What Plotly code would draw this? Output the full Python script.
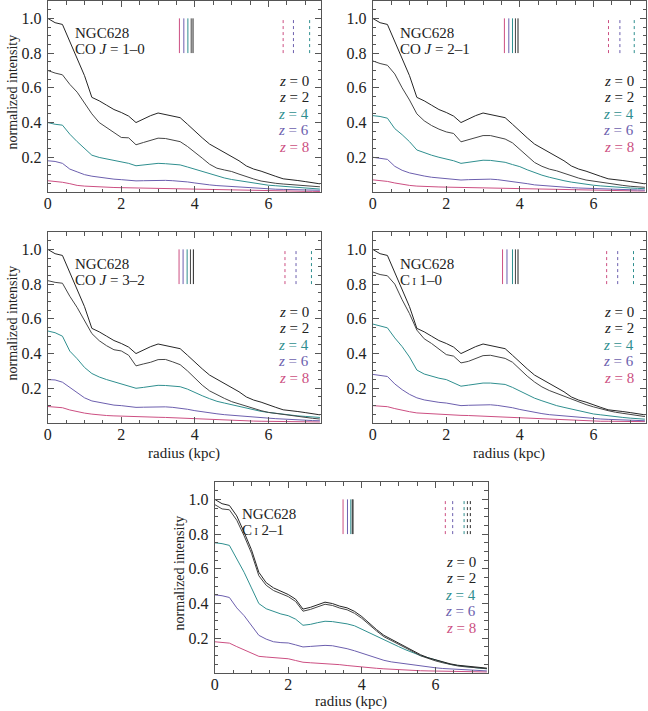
import plotly.graph_objects as go

W, H = 648, 711

# ---------------- data ----------------
radius = [0.0, 0.2, 0.4, 0.6, 0.8, 1.0, 1.2, 1.4, 1.6, 1.8, 2.0, 2.2, 2.4, 2.6, 2.8, 3.0, 3.2, 3.4, 3.6,
          3.8, 4.0, 4.2, 4.4, 4.6, 4.8, 5.0, 5.2, 5.4, 5.6, 5.8, 6.0, 6.2, 6.4, 6.6, 6.8, 7.0, 7.2, 7.4]

z_labels = ["0", "2", "4", "6", "8"]

# z = 0 profile (same in the four upper panels)
z0_common = [1.00, 0.975, 0.965, 0.87, 0.775, 0.67, 0.545, 0.525, 0.50, 0.475, 0.458, 0.437, 0.400, 0.420,
             0.440, 0.455, 0.447, 0.437, 0.428, 0.390, 0.350, 0.312, 0.276, 0.252, 0.225, 0.202, 0.180,
             0.150, 0.132, 0.120, 0.103, 0.090, 0.076, 0.069, 0.066, 0.060, 0.055, 0.047]

# CO J=1-0
co10_z2 = [0.70, 0.685, 0.675, 0.62, 0.575, 0.51, 0.45, 0.40, 0.37, 0.34, 0.314, 0.312, 0.272, 0.285, 0.297,
           0.310, 0.308, 0.300, 0.290, 0.262, 0.230, 0.195, 0.160, 0.137, 0.127, 0.118, 0.103, 0.088, 0.075,
           0.063, 0.055, 0.050, 0.046, 0.042, 0.038, 0.035, 0.032, 0.030]
co10_z4 = [0.40, 0.39, 0.385, 0.333, 0.29, 0.248, 0.212, 0.199, 0.19, 0.18, 0.174, 0.165, 0.151, 0.155, 0.16,
           0.165, 0.163, 0.16, 0.156, 0.144, 0.131, 0.117, 0.103, 0.092, 0.081, 0.072, 0.065, 0.057, 0.051,
           0.045, 0.039, 0.036, 0.033, 0.030, 0.027, 0.024, 0.020, 0.017]
co10_z6 = [0.18, 0.176, 0.165, 0.132, 0.116, 0.100, 0.091, 0.085, 0.078, 0.074, 0.071, 0.067, 0.064, 0.065,
           0.066, 0.068, 0.067, 0.065, 0.063, 0.058, 0.052, 0.045, 0.041, 0.037, 0.034, 0.031, 0.029, 0.026,
           0.023, 0.020, 0.018, 0.016, 0.015, 0.014, 0.013, 0.012, 0.011, 0.010]
co10_z8 = [0.065, 0.061, 0.056, 0.048, 0.038, 0.034, 0.031, 0.029, 0.027, 0.026, 0.025, 0.024, 0.023, 0.023,
           0.022, 0.022, 0.022, 0.021, 0.020, 0.018, 0.016, 0.015, 0.014, 0.013, 0.012, 0.011, 0.010, 0.009,
           0.009, 0.008, 0.007, 0.006, 0.006, 0.005, 0.005, 0.004, 0.004, 0.003]

# CO J=2-1
co21_z2 = [0.755, 0.74, 0.73, 0.68, 0.60, 0.53, 0.45, 0.41, 0.383, 0.362, 0.346, 0.337, 0.289, 0.300, 0.312,
           0.325, 0.325, 0.316, 0.305, 0.283, 0.245, 0.203, 0.170, 0.148, 0.132, 0.122, 0.108, 0.092, 0.080,
           0.069, 0.062, 0.056, 0.050, 0.044, 0.038, 0.033, 0.030, 0.027]
co21_z4 = [0.44, 0.435, 0.425, 0.365, 0.33, 0.29, 0.242, 0.225, 0.212, 0.200, 0.192, 0.180, 0.165, 0.170,
           0.177, 0.183, 0.182, 0.177, 0.171, 0.158, 0.146, 0.128, 0.111, 0.097, 0.085, 0.073, 0.065, 0.057,
           0.050, 0.044, 0.039, 0.035, 0.031, 0.028, 0.025, 0.023, 0.021, 0.019]
co21_z6 = [0.20, 0.196, 0.188, 0.148, 0.125, 0.110, 0.099, 0.092, 0.085, 0.081, 0.079, 0.074, 0.069, 0.071,
           0.073, 0.075, 0.074, 0.071, 0.066, 0.061, 0.055, 0.048, 0.041, 0.037, 0.033, 0.030, 0.027, 0.025,
           0.023, 0.021, 0.019, 0.017, 0.016, 0.015, 0.014, 0.013, 0.012, 0.011]
co21_z8 = [0.070, 0.066, 0.061, 0.052, 0.044, 0.038, 0.034, 0.031, 0.030, 0.029, 0.028, 0.027, 0.026, 0.026,
           0.025, 0.025, 0.024, 0.023, 0.022, 0.020, 0.019, 0.018, 0.017, 0.016, 0.015, 0.014, 0.013, 0.012,
           0.011, 0.010, 0.009, 0.008, 0.008, 0.007, 0.007, 0.006, 0.006, 0.006]

# CO J=3-2
co32_z2 = [0.82, 0.81, 0.805, 0.73, 0.665, 0.59, 0.515, 0.474, 0.445, 0.422, 0.415, 0.390, 0.329, 0.340,
           0.350, 0.365, 0.366, 0.352, 0.336, 0.300, 0.258, 0.218, 0.185, 0.162, 0.142, 0.123, 0.110, 0.095,
           0.082, 0.071, 0.061, 0.055, 0.047, 0.041, 0.036, 0.031, 0.027, 0.023]
co32_z4 = [0.53, 0.52, 0.50, 0.414, 0.37, 0.32, 0.285, 0.265, 0.25, 0.238, 0.228, 0.215, 0.200, 0.205, 0.210,
           0.217, 0.216, 0.213, 0.209, 0.195, 0.175, 0.157, 0.140, 0.125, 0.115, 0.105, 0.094, 0.083, 0.074,
           0.067, 0.061, 0.055, 0.050, 0.045, 0.041, 0.038, 0.035, 0.032]
co32_z6 = [0.25, 0.248, 0.235, 0.204, 0.175, 0.145, 0.127, 0.118, 0.108, 0.103, 0.100, 0.095, 0.090, 0.091,
           0.093, 0.094, 0.093, 0.090, 0.086, 0.079, 0.071, 0.064, 0.058, 0.053, 0.048, 0.044, 0.040, 0.036,
           0.033, 0.030, 0.028, 0.025, 0.022, 0.020, 0.018, 0.016, 0.014, 0.013]
co32_z8 = [0.095, 0.093, 0.088, 0.075, 0.064, 0.057, 0.051, 0.046, 0.043, 0.041, 0.039, 0.037, 0.036, 0.035,
           0.034, 0.033, 0.032, 0.030, 0.027, 0.025, 0.023, 0.021, 0.019, 0.017, 0.015, 0.014, 0.013, 0.012,
           0.011, 0.010, 0.009, 0.008, 0.008, 0.007, 0.007, 0.006, 0.006, 0.006]

# C I 1-0
ci10_z2 = [0.87, 0.855, 0.848, 0.80, 0.71, 0.63, 0.535, 0.485, 0.458, 0.425, 0.394, 0.385, 0.346, 0.355,
           0.370, 0.388, 0.390, 0.382, 0.372, 0.350, 0.310, 0.270, 0.236, 0.208, 0.187, 0.170, 0.153, 0.138,
           0.121, 0.106, 0.093, 0.080, 0.071, 0.062, 0.056, 0.050, 0.043, 0.037]
ci10_z4 = [0.57, 0.558, 0.548, 0.49, 0.44, 0.38, 0.305, 0.282, 0.268, 0.258, 0.250, 0.232, 0.212, 0.218,
           0.224, 0.230, 0.230, 0.226, 0.222, 0.205, 0.185, 0.162, 0.143, 0.128, 0.112, 0.100, 0.090, 0.080,
           0.069, 0.058, 0.052, 0.047, 0.041, 0.037, 0.032, 0.028, 0.025, 0.022]
ci10_z6 = [0.28, 0.276, 0.268, 0.225, 0.192, 0.165, 0.145, 0.133, 0.125, 0.119, 0.115, 0.108, 0.100, 0.102,
           0.104, 0.106, 0.105, 0.101, 0.096, 0.088, 0.078, 0.069, 0.060, 0.054, 0.048, 0.044, 0.040, 0.036,
           0.032, 0.029, 0.026, 0.023, 0.021, 0.019, 0.017, 0.015, 0.014, 0.013]
ci10_z8 = [0.10, 0.098, 0.094, 0.083, 0.073, 0.065, 0.058, 0.055, 0.052, 0.049, 0.047, 0.045, 0.044, 0.043,
           0.041, 0.040, 0.039, 0.037, 0.035, 0.032, 0.029, 0.027, 0.024, 0.022, 0.020, 0.018, 0.016, 0.015,
           0.013, 0.012, 0.011, 0.010, 0.010, 0.009, 0.009, 0.008, 0.008, 0.008]

# C I 2-1
ci21_z0 = [1.00, 0.975, 0.965, 0.905, 0.81, 0.71, 0.58, 0.52, 0.49, 0.47, 0.452, 0.425, 0.368, 0.378, 0.395,
           0.408, 0.400, 0.385, 0.375, 0.355, 0.325, 0.285, 0.250, 0.217, 0.195, 0.172, 0.150, 0.128, 0.105,
           0.088, 0.075, 0.064, 0.053, 0.045, 0.040, 0.035, 0.031, 0.028]
ci21_z2 = [0.97, 0.945, 0.94, 0.88, 0.79, 0.69, 0.56, 0.505, 0.475, 0.456, 0.440, 0.412, 0.356, 0.366, 0.383,
           0.396, 0.389, 0.374, 0.364, 0.344, 0.315, 0.276, 0.242, 0.209, 0.188, 0.165, 0.143, 0.122, 0.099,
           0.083, 0.070, 0.059, 0.049, 0.041, 0.036, 0.032, 0.028, 0.025]
ci21_z4 = [0.75, 0.745, 0.735, 0.66, 0.58, 0.49, 0.40, 0.37, 0.355, 0.34, 0.33, 0.31, 0.275, 0.28, 0.29,
           0.298, 0.296, 0.29, 0.283, 0.272, 0.252, 0.232, 0.208, 0.19, 0.17, 0.152, 0.133, 0.115, 0.10, 0.088,
           0.076, 0.063, 0.050, 0.043, 0.037, 0.032, 0.028, 0.024]
ci21_z6 = [0.45, 0.445, 0.435, 0.375, 0.33, 0.27, 0.217, 0.195, 0.18, 0.175, 0.173, 0.162, 0.150, 0.153,
           0.156, 0.159, 0.157, 0.150, 0.140, 0.128, 0.115, 0.100, 0.085, 0.073, 0.064, 0.058, 0.051, 0.045,
           0.038, 0.034, 0.030, 0.026, 0.023, 0.020, 0.018, 0.015, 0.013, 0.012]
ci21_z8 = [0.18, 0.178, 0.172, 0.152, 0.133, 0.113, 0.096, 0.092, 0.088, 0.085, 0.082, 0.072, 0.062, 0.059,
           0.057, 0.055, 0.052, 0.048, 0.043, 0.038, 0.034, 0.030, 0.027, 0.024, 0.021, 0.019, 0.017, 0.015,
           0.013, 0.012, 0.011, 0.010, 0.009, 0.008, 0.007, 0.007, 0.006, 0.006]

# marker radii (solid: z=8,6,4,2,0 ; dashed: z=8,6,4,2,0 where visible)
solid_co10 = [3.58, 3.70, 3.81, 3.90, 3.95]
dash_co10 = [6.40, 6.68, 7.12]
solid_co21 = [3.58, 3.70, 3.80, 3.88, 3.95]
dash_co21 = [6.41, 6.72, 7.11]
solid_co32 = [3.57, 3.68, 3.79, 3.88, 3.96]
dash_co32 = [6.45, 6.75, 7.17]
solid_ci10 = [3.53, 3.65, 3.80, 3.88, 3.95]
dash_ci10 = [6.36, 6.66, 7.09]
solid_ci21 = [3.49, 3.61, 3.70, 3.74, 3.76]
dash_ci21 = [6.27, 6.47, 6.78, 6.87, 6.95]

y_ticks = [0.2, 0.4, 0.6, 0.8, 1.0]
y_ticktext = ["0.2", "0.4", "0.6", "0.8", "1.0"]
x_ticks = [0, 2, 4, 6]

# ---------------- style ----------------
FONT = "Liberation Serif"
colors = ["#262626", "#454545", "#2f8f8f", "#6c5fae", "#cc4f82"]   # z = 0,2,4,6,8
marker_colors = ["#cc4f82", "#6c5fae", "#2f8f8f", "#454545", "#262626"]  # z = 8,6,4,2,0
widths = [1.0, 1.0, 1.0, 1.0, 1.0]
AXCOL = "#555555"
TXT = "#222222"

panels = [
    dict(title="CO <i>J</i> = 1–0", series=[z0_common, co10_z2, co10_z4, co10_z6, co10_z8],
         solid=solid_co10, dash=dash_co10, box=(44, 319, 1, 192), ytitle=True, xtitle=None),
    dict(title="CO <i>J</i> = 2–1", series=[z0_common, co21_z2, co21_z4, co21_z6, co21_z8],
         solid=solid_co21, dash=dash_co21, box=(371, 646, 1, 192), ytitle=False, xtitle=None),
    dict(title="CO <i>J</i> = 3–2", series=[z0_common, co32_z2, co32_z4, co32_z6, co32_z8],
         solid=solid_co32, dash=dash_co32, box=(44, 319, 232, 423), ytitle=True, xtitle=453),
    dict(title="C<span style='font-size:10px'> I</span> 1–0", series=[z0_common, ci10_z2, ci10_z4, ci10_z6, ci10_z8],
         solid=solid_ci10, dash=dash_ci10, box=(371, 646, 232, 423), ytitle=False, xtitle=453),
    dict(title="C<span style='font-size:10px'> I</span> 2–1", series=[ci21_z0, ci21_z2, ci21_z4, ci21_z6, ci21_z8],
         solid=solid_ci21, dash=dash_ci21, box=(212, 487, 482, 673), ytitle=True, xtitle=701),
]

fig = go.Figure()
layout = dict(width=W, height=H, margin=dict(l=0, r=0, t=0, b=0), showlegend=False,
              paper_bgcolor="white", plot_bgcolor="white", font=dict(family=FONT, size=15, color=TXT))
shapes, annotations = [], []

for i, p in enumerate(panels, start=1):
    l, r, t, b = p["box"]
    xa = "xaxis" if i == 1 else f"xaxis{i}"
    ya = "yaxis" if i == 1 else f"yaxis{i}"
    xr = "x" if i == 1 else f"x{i}"
    yr = "y" if i == 1 else f"y{i}"
    layout[xa] = dict(domain=[l / W, r / W], range=[0, 7.43], anchor=yr, showline=True, linecolor=AXCOL,
                      linewidth=1, mirror="ticks", ticks="inside", ticklen=6, tickcolor=AXCOL,
                      tickvals=x_ticks, showgrid=False, zeroline=False, ticklabelstandoff=-3,
                      tickfont=dict(size=16, family=FONT, color=TXT),
                      minor=dict(ticks="inside", ticklen=3.5, dtick=0.5, tick0=0, tickcolor=AXCOL, showgrid=False))
    layout[ya] = dict(domain=[1 - b / H, 1 - t / H], range=[0, 1.1], anchor=xr, showline=True, linecolor=AXCOL,
                      linewidth=1, mirror="ticks", ticks="inside", ticklen=6, tickcolor=AXCOL,
                      tickmode="array", tickvals=y_ticks, ticktext=y_ticktext, showgrid=False, zeroline=False,
                      ticklabelstandoff=2, tickfont=dict(size=16, family=FONT, color=TXT),
                      minor=dict(ticks="inside", ticklen=3.5, tickmode="linear", dtick=0.05, tick0=0,
                                 tickcolor=AXCOL, showgrid=False))
    # curves: draw z=8 first so z=0 is on top
    for k in range(4, -1, -1):
        fig.add_trace(go.Scatter(x=radius, y=p["series"][k], mode="lines", xaxis=xr, yaxis=yr,
                                 line=dict(color=colors[k], width=widths[k]), hoverinfo="skip"))
    # marker lines
    for j, xv in enumerate(p["solid"]):
        shapes.append(dict(type="line", xref=xr, yref=yr, x0=xv, x1=xv, y0=0.80, y1=1.0,
                           line=dict(color=marker_colors[j], width=1)))
    for j, xv in enumerate(p["dash"]):
        shapes.append(dict(type="line", xref=xr, yref=yr, x0=xv, x1=xv, y0=0.80, y1=1.0,
                           line=dict(color=marker_colors[j], width=1, dash="3px,3px")))
    # labels
    annotations.append(dict(xref=xr, yref=yr, x=0.68, y=0.918, text="NGC628", showarrow=False,
                            xanchor="left", yanchor="middle", font=dict(size=15, family=FONT, color=TXT)))
    annotations.append(dict(xref=xr, yref=yr, x=0.68, y=0.825, text=p["title"], showarrow=False,
                            xanchor="left", yanchor="middle", font=dict(size=15, family=FONT, color=TXT)))
    leg_y = [0.64, 0.545, 0.45, 0.355, 0.26]
    for k in range(5):
        annotations.append(dict(xref=xr, yref=yr, x=7.17, y=leg_y[k], text=f"<i>z</i> = {z_labels[k]}",
                                showarrow=False, xanchor="right", yanchor="middle",
                                font=dict(size=15, family=FONT, color=colors[k] if k > 1 else TXT)))
    if p["ytitle"]:
        annotations.append(dict(xref="paper", yref="paper", x=(l - 35) / W, y=1 - ((t + b) / 2 - 5) / H,
                                text="normalized intensity", textangle=-90, showarrow=False,
                                xanchor="center", yanchor="middle", font=dict(size=14, family=FONT, color=TXT)))
    if p["xtitle"] is not None:
        annotations.append(dict(xref="paper", yref="paper", x=(l + r) / 2 / W, y=1 - p["xtitle"] / H,
                                text="radius (kpc)", showarrow=False, xanchor="center", yanchor="middle",
                                font=dict(size=15, family=FONT, color=TXT)))

layout["shapes"] = shapes
layout["annotations"] = annotations
fig.update_layout(**layout)
fig.write_html("out.html", config={"displayModeBar": False},
               post_script="document.body.style.margin='0';document.body.style.padding='0';")
